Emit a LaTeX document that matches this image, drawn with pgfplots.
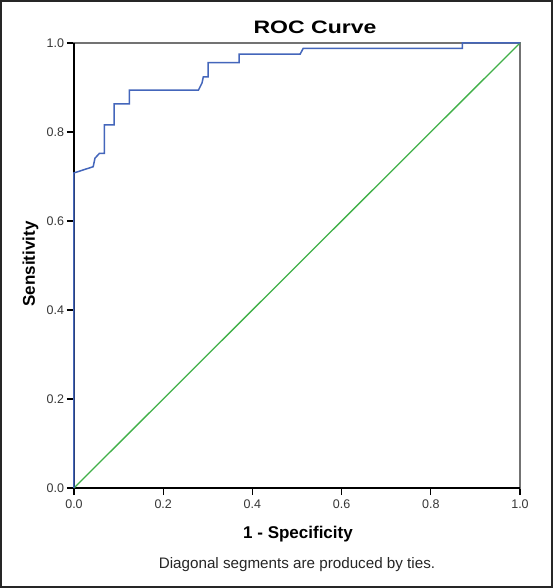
\documentclass[border=0pt]{standalone}
\usepackage{fontspec}
\setmainfont{Liberation Sans}
\usepackage{pgfplots}
\pgfplotsset{compat=1.18}
\definecolor{roccol}{RGB}{68,102,187}
\definecolor{diagcol}{RGB}{64,176,72}
\definecolor{ticktext}{RGB}{55,55,55}
\begin{document}
\begin{tikzpicture}[x=1pt,y=1pt]
\useasboundingbox (-74,-100) rectangle (479,488);
\fill[white] (-74,-100) rectangle (479,488);
\begin{axis}[
  at={(0pt,0pt)}, anchor=south west,
  scale only axis, width=446pt, height=445pt,
  xmin=0, xmax=1, ymin=0, ymax=1,
  axis line style={draw=black!55, line width=1.3pt},
  tick align=outside, tick pos=left,
  major tick length=7pt,
  every tick/.style={black, line width=1.2pt},
  xtick={0,0.2,0.4,0.6,0.8,1},
  ytick={0,0.2,0.4,0.6,0.8,1},
  /pgf/number format/.cd, fixed, fixed zerofill, precision=1, assume math mode=true,
  /pgfplots/.cd,
  tick label style={font=\fontsize{12.5}{14}\selectfont, color=ticktext},
  xticklabel style={yshift=-1.5pt},
  yticklabel style={xshift=0.5pt},
  clip=false,
]
\draw[black, line width=1.6pt] (axis cs:0,1) -- (axis cs:0,0) -- (axis cs:1,0);
\addplot[diagcol, line width=1.3pt] coordinates {(0,0) (1,1)};
\addplot[roccol, line width=1.5pt] coordinates {
(0,0) (0,0.708) (0.043,0.722) (0.047,0.741) (0.057,0.752) (0.068,0.752)
(0.068,0.816) (0.090,0.816) (0.090,0.863) (0.124,0.863) (0.124,0.894)
(0.279,0.894) (0.287,0.910) (0.290,0.924) (0.301,0.924) (0.301,0.956)
(0.370,0.956) (0.370,0.975) (0.507,0.975) (0.514,0.988) (0.871,0.988)
(0.871,1) (1,1)};
\end{axis}
\node[anchor=base, font=\bfseries\fontsize{18}{20}\selectfont] at (241,454.7) {\scalebox{1.28}[1]{ROC Curve}};
\node[anchor=base, font=\bfseries\fontsize{17}{20}\selectfont] at (224,-50) {1 - Specificity};
\node[anchor=base, font=\fontsize{15.2}{18}\selectfont, color=black!85] at (223,-80) {Diagonal segments are produced by ties.};
\node[rotate=90, anchor=base, font=\bfseries\fontsize{17}{20}\selectfont] at (-39,224) {Sensitivity};
\draw[line width=2pt, color=black!85] (-73,-99) rectangle (478,487);
\end{tikzpicture}
\end{document}
